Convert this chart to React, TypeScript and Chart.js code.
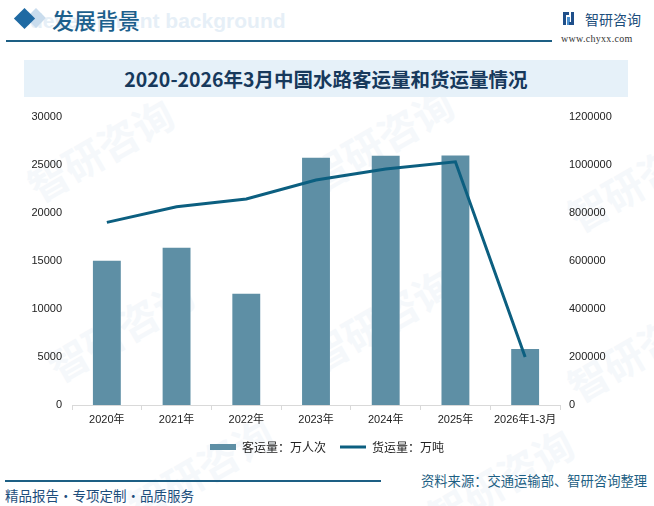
import React, { useEffect, useRef } from "react";
import { Chart, registerables } from "chart.js";

Chart.register(...registerables);

const categories = ["2020年", "2021年", "2022年", "2023年", "2024年", "2025年", "2026年1-3月"];
const passengerValues = [15000, 16350, 11560, 25730, 25940, 25960, 5830];
const freightValues = [760000, 825000, 857000, 936000, 982000, 1012000, 200000];
const leftTicks = [0, 5000, 10000, 15000, 20000, 25000, 30000];
const rightTicks = [0, 200000, 400000, 600000, 800000, 1000000, 1200000];
const passengerLabel = "客运量：万人次";
const freightLabel = "货运量：万吨";

const BAR_COLOR = "#5e8fa5";
const LINE_COLOR = "#0c5f80";
const FONT = "'Liberation Sans', 'Noto Sans CJK SC', sans-serif";
const CJK = "'Noto Sans CJK SC', sans-serif";

const watermarks = [
  { x: 20, y: 120 },
  { x: 300, y: 110 },
  { x: 560, y: 150 },
  { x: 40, y: 300 },
  { x: 300, y: 290 },
  { x: 560, y: 320 },
  { x: 120, y: 440 },
  { x: 420, y: 450 },
];

export default function App() {
  const canvasRef = useRef<HTMLCanvasElement | null>(null);

  useEffect(() => {
    document.body.style.margin = "0";
    const canvas = canvasRef.current;
    if (!canvas) return;
    const chart = new Chart(canvas, {
      type: "bar",
      data: {
        labels: categories,
        datasets: [
          {
            type: "bar",
            label: passengerLabel,
            data: passengerValues,
            backgroundColor: BAR_COLOR,
            borderWidth: 0,
            yAxisID: "y",
            order: 2,
            barPercentage: 0.4,
            categoryPercentage: 1,
            pointStyle: "rect",
          } as any,
          {
            type: "line",
            label: freightLabel,
            data: freightValues,
            borderColor: LINE_COLOR,
            backgroundColor: LINE_COLOR,
            borderWidth: 3,
            pointRadius: 0,
            pointHoverRadius: 0,
            tension: 0,
            yAxisID: "y1",
            order: 1,
            pointStyle: "line",
          } as any,
        ],
      },
      options: {
        animation: false,
        responsive: false,
        maintainAspectRatio: false,
        devicePixelRatio: 1,
        layout: { padding: { top: 16, left: 0, right: 0, bottom: 0 } },
        plugins: {
          tooltip: { enabled: false },
          title: { display: false },
          legend: {
            display: true,
            position: "bottom",
            labels: {
              usePointStyle: true,
              pointStyleWidth: 26,
              boxHeight: 6,
              padding: 14,
              color: "#222",
              font: { family: CJK, size: 12 },
              sort: (a: any, b: any) => a.datasetIndex - b.datasetIndex,
            },
          },
        },
        scales: {
          x: {
            type: "category",
            offset: true,
            grid: {
              display: true,
              drawOnChartArea: false,
              drawTicks: true,
              tickLength: 5,
              color: "#d9d9d9",
              offset: true,
            },
            border: { display: true, color: "#d9d9d9" },
            ticks: {
              color: "#222",
              font: { family: FONT, size: 11 },
              padding: 3,
              maxRotation: 0,
              autoSkip: false,
            },
            afterFit: (scale: any) => {
              scale.height = 22;
            },
          },
          y: {
            type: "linear",
            position: "left",
            min: 0,
            max: 30000,
            afterBuildTicks: (scale: any) => {
              scale.ticks = leftTicks.map((v) => ({ value: v }));
            },
            grid: { display: false, drawTicks: false },
            border: { display: false },
            ticks: {
              color: "#222",
              font: { family: FONT, size: 11 },
              padding: 10,
              callback: (v: any) => String(v),
            },
            afterFit: (scale: any) => {
              scale.width = 72;
            },
          },
          y1: {
            type: "linear",
            position: "right",
            min: 0,
            max: 1200000,
            afterBuildTicks: (scale: any) => {
              scale.ticks = rightTicks.map((v) => ({ value: v }));
            },
            grid: { display: false, drawTicks: false },
            border: { display: false },
            ticks: {
              color: "#222",
              font: { family: FONT, size: 11 },
              padding: 9,
              callback: (v: any) => String(v),
            },
            afterFit: (scale: any) => {
              scale.width = 94;
            },
          },
        },
      },
    });
    return () => {
      chart.destroy();
    };
  }, []);

  return (
    <div
      style={{
        position: "fixed",
        left: 0,
        top: 0,
        width: 654,
        height: 506,
        background: "#ffffff",
        overflow: "hidden",
        fontFamily: CJK,
      }}
    >
      {watermarks.map((w, i) => (
        <div
          key={i}
          style={{
            position: "absolute",
            left: w.x,
            top: w.y,
            fontSize: 40,
            fontWeight: 700,
            color: "#f5f8fb",
            transform: "rotate(-30deg)",
            whiteSpace: "nowrap",
            pointerEvents: "none",
          }}
        >
          智研咨询
        </div>
      ))}

      {/* header ghost text */}
      <div
        style={{
          position: "absolute",
          left: 30,
          top: 9,
          fontFamily: "'Liberation Sans', sans-serif",
          fontWeight: 700,
          fontSize: 21,
          color: "#e6eff7",
          whiteSpace: "nowrap",
        }}
      >
        development background
      </div>
      {/* diamonds */}
      <div
        style={{
          position: "absolute",
          left: 29,
          top: 11,
          width: 14,
          height: 14,
          background: "#c9dced",
          transform: "rotate(45deg)",
        }}
      />
      <div
        style={{
          position: "absolute",
          left: 17,
          top: 11,
          width: 15,
          height: 15,
          background: "#1f6aa3",
          transform: "rotate(45deg)",
        }}
      />
      <div
        style={{
          position: "absolute",
          left: 52,
          top: 4,
          fontSize: 22,
          lineHeight: "30px",
          fontWeight: 500,
          color: "#1c5f8c",
          whiteSpace: "nowrap",
        }}
      >
        发展背景
      </div>
      <div
        style={{
          position: "absolute",
          left: 6,
          top: 40,
          width: 546,
          height: 1.5,
          background: "#1d5f84",
        }}
      />
      {/* logo */}
      <div style={{ position: "absolute", left: 563, top: 12, width: 11, height: 13 }}>
        <div style={{ position: "absolute", left: 0, top: 0, width: 6, height: 3, background: "#1f4f8a" }} />
        <div style={{ position: "absolute", left: 0, top: 0, width: 3, height: 13, background: "#1f4f8a" }} />
        <div style={{ position: "absolute", left: 4, top: 5, width: 3, height: 8, background: "#4a90d0" }} />
        <div style={{ position: "absolute", left: 8, top: 0, width: 3, height: 13, background: "#1f4f8a" }} />
        <div style={{ position: "absolute", left: 6, top: 10, width: 5, height: 3, background: "#1f4f8a" }} />
      </div>
      <div
        style={{
          position: "absolute",
          left: 585,
          top: 9,
          fontSize: 14,
          lineHeight: "20px",
          color: "#1d4e7c",
          whiteSpace: "nowrap",
        }}
      >
        智研咨询
      </div>
      <div
        style={{
          position: "absolute",
          left: 561,
          top: 32,
          fontSize: 10,
          lineHeight: "14px",
          fontFamily: "'Liberation Serif', serif",
          color: "#333",
          whiteSpace: "nowrap",
          letterSpacing: 0.3,
        }}
      >
        www.chyxx.com
      </div>

      {/* title band */}
      <div
        style={{
          position: "absolute",
          left: 24,
          top: 60,
          width: 604,
          height: 37,
          background: "#e6f1f9",
        }}
      />
      <div
        style={{
          position: "absolute",
          left: 24,
          top: 60,
          width: 604,
          height: 37,
          lineHeight: "37px",
          textAlign: "center",
          fontSize: 19.5,
          fontWeight: 700,
          color: "#17395c",
          whiteSpace: "nowrap",
        }}
      >
        2020-2026年3月中国水路客运量和货运量情况
      </div>

      <canvas
        ref={canvasRef}
        width={654}
        height={363}
        style={{ position: "absolute", left: 0, top: 100, width: 654, height: 363 }}
      />

      {/* footer */}
      <div
        style={{
          position: "absolute",
          left: 5,
          top: 480,
          width: 376,
          height: 1.5,
          background: "#1d5f84",
        }}
      />
      <div
        style={{
          position: "absolute",
          left: 421,
          top: 472,
          fontSize: 13.3,
          lineHeight: "18px",
          color: "#1d5f84",
          whiteSpace: "nowrap",
        }}
      >
        资料来源：交通运输部、智研咨询整理
      </div>
      <div
        style={{
          position: "absolute",
          left: 5,
          top: 486,
          fontSize: 13.5,
          lineHeight: "18px",
          color: "#1d4e7c",
          whiteSpace: "nowrap",
        }}
      >
        精品报告·专项定制·品质服务
      </div>
    </div>
  );
}
